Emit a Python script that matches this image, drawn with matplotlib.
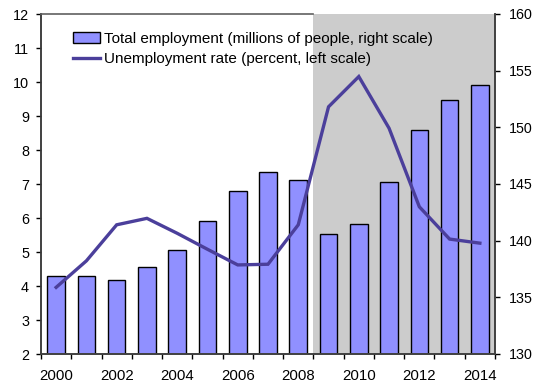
import matplotlib
matplotlib.use("Agg")
import matplotlib.pyplot as plt
import numpy as np

plt.rcParams['font.family'] = ['Liberation Sans', 'DejaVu Sans']

years = list(range(2000, 2015))
employment = [136.9, 136.9, 136.5, 137.7, 139.2, 141.7, 144.4, 146.05, 145.37,
              140.6, 141.45, 145.2, 149.8, 152.45, 153.75]
unemployment = [3.96, 4.74, 5.80, 5.99, 5.55, 5.08, 4.62, 4.64, 5.80,
                9.27, 10.16, 8.64, 6.33, 5.38, 5.26]
label_years = ['2000', '2002', '2004', '2006', '2008', '2010', '2012', '2014']
shade_start_year = 2009

bar_color = '#9090FF'
line_color = '#4B3F9B'
shade_color = '#CCCCCC'

fig = plt.figure(figsize=(5.34, 3.85), dpi=100)
ax = fig.add_axes([41/534, 1-354/385, (495-41)/534, (354-14)/385])
ax2 = ax.twinx()

x = np.arange(len(years))
s = years.index(shade_start_year) - 0.5
ax2.axvspan(s, len(years) - 0.5, color=shade_color, zorder=0, lw=0)
bars = ax2.bar(x, employment, width=0.58, color=bar_color, edgecolor='black',
               linewidth=1.0, zorder=2,
               label='Total employment (millions of people, right scale)')
ln, = ax.plot(x, unemployment, color=line_color, lw=2.4, solid_joinstyle='miter',
              label='Unemployment rate (percent, left scale)')

ax.set_zorder(ax2.get_zorder() + 1)
ax.patch.set_visible(False)

ax.set_xlim(-0.5, len(years) - 0.5)
ax.set_ylim(2, 12)
ax2.set_ylim(130, 160)
ax.set_yticks(range(2, 13))
ax2.set_yticks(range(130, 161, 5))

ax.set_xticks([years.index(int(y)) for y in label_years])
ax.set_xticklabels(label_years)
ax.set_xticks(np.arange(-0.5, len(years)), minor=True)
ax.tick_params(axis='x', which='major', length=0, pad=11, labelsize=10.8)
ax.tick_params(axis='x', which='minor', length=3.6, width=1, direction='out')
ax.tick_params(axis='y', length=3.6, width=1, direction='out', pad=5, labelsize=10.4)
ax2.tick_params(axis='y', length=3.6, width=1, direction='out', pad=6.3, labelsize=10.3)

for a in (ax, ax2):
    for sp in a.spines.values():
        sp.set_color('#404040')
        sp.set_linewidth(1.2)
ax.spines['top'].set_bounds(-0.5, s)
ax2.spines['top'].set_visible(False)
ax.spines['top'].set_color('#606060')

leg = ax.legend([bars, ln], [bars.get_label(), ln.get_label()],
                loc='upper left', bbox_to_anchor=(0.057, 0.965), frameon=False,
                fontsize=11, handlelength=1.8, handletextpad=0.25,
                borderaxespad=0, labelspacing=0.4)

fig.savefig('out.png', dpi=100)
